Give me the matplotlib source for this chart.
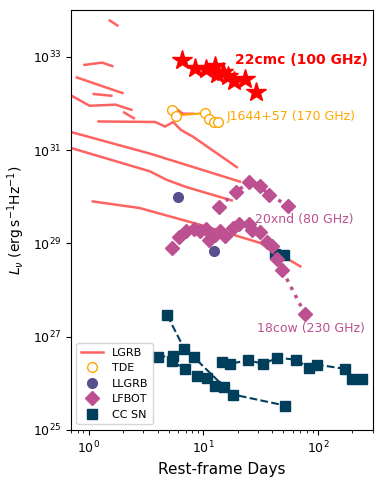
import matplotlib.pyplot as plt
from matplotlib.lines import Line2D
from matplotlib.ticker import NullLocator
import numpy as np

# LGRB light curves (days, erg/s/Hz)
lgrb_curves = [
    ([1.53, 1.78], [6.0e33, 4.7e33]),
    ([0.92, 1.31, 1.61], [6.7e32, 7.5e32, 6.3e32]),
    ([0.79, 1.97], [3.6e32, 1.67e32]),
    ([1.11, 1.58], [1.59e32, 1.46e32]),
    ([0.71, 1.02, 1.72, 2.36], [1.46e32, 8.9e31, 9.4e31, 7.3e31]),
    ([2.04, 2.48], [6.4e31, 4.8e31]),
    ([1.22, 3.80, 4.65, 5.47, 6.38, 8.13, 19.6],
     [4.1e31, 4.0e31, 3.2e31, 4.0e31, 2.7e31, 1.93e31, 4.3e30]),
    ([5.47, 6.64, 8.13], [8.5e31, 6.0e31, 6.0e31]),
    ([0.70, 3.42, 20.9], [2.44e31, 8.4e30, 2.1e30]),
    ([0.70, 3.42, 4.78, 7.16, 17.7], [1.11e31, 3.5e30, 2.3e30, 1.6e30, 8.3e29]),
    ([1.09, 2.79, 9.36, 31.3, 70.2], [7.9e29, 5.7e29, 2.5e29, 1.02e29, 3.2e28]),
]

# AT2022cmc (100 GHz)
cmc_t = [6.55, 8.46, 10.6, 12.6, 13.2, 14.9, 16.5, 18.6, 23.2, 29.1]
cmc_L = [8.6e32, 5.8e32, 5.4e32, 6.2e32, 4.3e32, 4.8e32, 3.9e32, 3.1e32, 3.4e32, 1.75e32]

# J1644+57 (170 GHz)
tde_t = [5.29, 5.75, 10.35, 11.15, 12.4, 13.4]
tde_L = [7.1e31, 5.5e31, 6.2e31, 4.7e31, 4.0e31, 3.9e31]

# LLGRB
llgrb_t = [6.04, 12.4]
llgrb_L = [9.7e29, 6.7e28]

# AT2020xnd (80 GHz)
xnd_t = [13.7, 19.2, 25.1, 31.3, 37.6, 54.8]
xnd_L = [6.0e29, 1.26e30, 2.03e30, 1.66e30, 1.10e30, 6.4e29]

# AT2018cow (230 GHz)
cow_t = [5.38, 6.13, 7.13, 8.29, 9.45, 10.5, 11.3, 12.7, 14.0, 15.5, 18.0,
         20.5, 24.8, 26.5, 31.3, 36.1, 39.9, 43.7, 48.5, 77.6]
cow_L = [7.8e28, 1.39e29, 1.82e29, 2.07e29, 1.81e29, 2.03e29, 1.17e29, 1.53e29,
         1.81e29, 1.43e29, 2.17e29, 2.61e29, 2.64e29, 1.89e29, 1.74e29, 1.06e29,
         8.9e28, 4.5e28, 2.73e28, 2.97e27]

# CC SNe
sn_curves = [
    ([4.84, 6.82, 8.29, 15.2, 18.3, 51.9], [2.87e27, 5.5e26, 3.6e26, 8.4e25, 5.7e25, 3.3e25]),
    ([3.99, 5.40, 5.29, 6.92, 8.86, 10.8, 12.7],
     [3.7e26, 3.8e26, 2.96e26, 2.03e26, 1.46e26, 1.28e26, 8.6e25]),
    ([14.5, 17.1, 24.5, 33.5, 43.9, 64.7, 83.0, 98.2, 171, 199, 240],
     [2.8e26, 2.6e26, 3.1e26, 2.6e26, 3.5e26, 3.2e26, 2.14e26, 2.5e26, 2.03e26, 1.24e26, 1.24e26]),
    ([42.4, 50.1], [6.0e28, 5.7e28]),
]

c_lgrb = '#ff6361'
c_tde = '#ffa600'
c_llgrb = '#58508d'
c_lfbot = '#bc5090'
c_sn = '#003f5c'

fig = plt.figure(figsize=(3.83, 4.84), dpi=100)
ax = fig.add_axes([0.185, 0.112, 0.788, 0.867])

for t, L in lgrb_curves:
    ax.plot(t, L, color=c_lgrb, lw=1.8)

for t, L in sn_curves:
    ax.plot(t, L, 's--', color=c_sn, ms=7, lw=1.5)

ax.plot(cow_t, cow_L, 'D:', color=c_lfbot, ms=7, lw=2.5)
ax.plot(xnd_t, xnd_L, 'D:', color=c_lfbot, ms=7, lw=2.5)

ax.plot(llgrb_t, llgrb_L, 'o', color=c_llgrb, ms=7)

ax.plot(tde_t, tde_L, 'o-', color=c_tde, mfc='white', ms=7, lw=1.5)

ax.plot(cmc_t, cmc_L, '*', color='red', ms=15)

ax.text(18.9, 8.6e32, '22cmc (100 GHz)', color='red', fontsize=10,
        fontweight='bold', va='center')
ax.text(16.0, 5.3e31, 'J1644+57 (170 GHz)', color=c_tde, fontsize=9, va='center')
ax.text(28.3, 3.3e29, '20xnd (80 GHz)', color=c_lfbot, fontsize=9, va='center')
ax.text(29.3, 1.46e27, '18cow (230 GHz)', color=c_lfbot, fontsize=9, va='center')

ax.set_xscale('log')
ax.set_yscale('log')
ax.set_xlim(0.7, 300)
ax.set_ylim(1e25, 1e34)
ax.set_yticks([1e25, 1e27, 1e29, 1e31, 1e33])
ax.yaxis.set_minor_locator(NullLocator())
ax.tick_params(labelsize=9)

ax.set_xlabel('Rest-frame Days', fontsize=11)
ax.set_ylabel(r'$L_{\nu}$ (erg$\,$s$^{-1}$Hz$^{-1}$)', fontsize=10)

handles = [
    Line2D([], [], color=c_lgrb, lw=1.8),
    Line2D([], [], marker='o', ls='', color=c_tde, mfc='white', ms=7),
    Line2D([], [], marker='o', ls='', color=c_llgrb, ms=7),
    Line2D([], [], marker='D', ls='', color=c_lfbot, ms=7),
    Line2D([], [], marker='s', ls='', color=c_sn, ms=7),
]
ax.legend(handles, ['LGRB', 'TDE', 'LLGRB', 'LFBOT', 'CC SN'],
          loc='lower left', fontsize=8)

fig.savefig('out.png', dpi=100)
